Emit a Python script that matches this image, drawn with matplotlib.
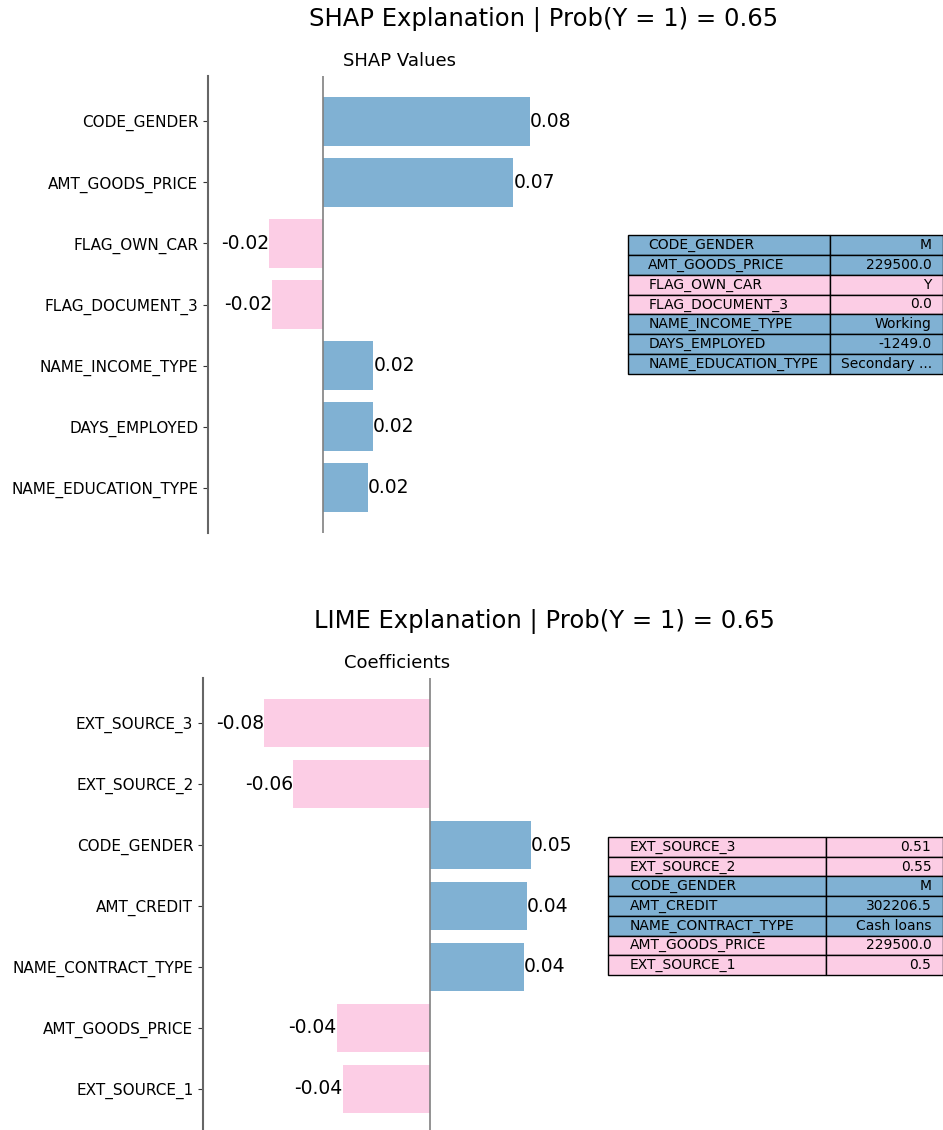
import matplotlib
matplotlib.use("Agg")
import matplotlib.pyplot as plt

BLUE = "#80b1d3"
PINK = "#fccde5"

shap_features = ["CODE_GENDER", "AMT_GOODS_PRICE", "FLAG_OWN_CAR", "FLAG_DOCUMENT_3",
                 "NAME_INCOME_TYPE", "DAYS_EMPLOYED", "NAME_EDUCATION_TYPE"]
shap_values = [0.0785, 0.0721, -0.0204, -0.0192, 0.0192, 0.0189, 0.0170]
shap_feature_values = ["M", "229500.0", "Y", "0.0", "Working", "-1249.0", "Secondary ..."]

lime_features = ["EXT_SOURCE_3", "EXT_SOURCE_2", "CODE_GENDER", "AMT_CREDIT",
                 "NAME_CONTRACT_TYPE", "AMT_GOODS_PRICE", "EXT_SOURCE_1"]
lime_values = [-0.0761, -0.0628, 0.0463, 0.0445, 0.0431, -0.0427, -0.0399]
lime_feature_values = ["0.51", "0.55", "M", "302206.5", "Cash loans", "229500.0", "0.5"]

prob = 0.65

W, H = 943, 1130
fig = plt.figure(figsize=(W / 100, H / 100), dpi=100)


def fx(px):
    return px / W


def fy(py):
    return 1 - py / H


def bar_panel(rect, feats, vals, subtitle, xlim):
    ax = fig.add_axes(rect)
    colors = [BLUE if v > 0 else PINK for v in vals]
    ys = list(range(len(feats)))
    ax.barh(ys, vals, color=colors, height=0.8)
    ax.set_yticks(ys)
    ax.set_yticklabels(feats, fontsize=11)
    ax.set_ylim(len(feats) - 0.26, -0.74)
    ax.set_xlim(*xlim)
    ax.axvline(0, color="gray", linewidth=1.2)
    for s in ["top", "right", "bottom"]:
        ax.spines[s].set_visible(False)
    ax.spines["left"].set_color("#666666")
    ax.spines["left"].set_linewidth(1.5)
    ax.set_xticks([])
    ax.tick_params(axis="y", colors="#333333", labelcolor="black")
    for y, v in zip(ys, vals):
        ax.text(v, y, f"{v:.2f}", ha="left" if v > 0 else "right", va="center",
                fontsize=13.5)
    ax.set_title(subtitle, fontsize=13, pad=7)
    return ax


def table_panel(rect, feats, fvals, vals, w0):
    ax = fig.add_axes(rect)
    ax.axis("off")
    cell_text = [[f, fv] for f, fv in zip(feats, fvals)]
    colors = [[BLUE if v > 0 else PINK] * 2 for v in vals]
    tab = ax.table(cellText=cell_text, cellColours=colors, bbox=[0, 0, 1, 1],
                   colWidths=[w0, 1 - w0])
    tab.auto_set_font_size(False)
    for (r, c), cell in tab.get_celld().items():
        cell.set_fontsize(10)
        cell.set_edgecolor("black")
        cell.set_linewidth(1.0)
        cell._loc = "left" if c == 0 else "right"
        cell.get_text().set_horizontalalignment("left" if c == 0 else "right")
    return ax


# SHAP panel
bar_panel([fx(208), fy(533), fx(591) - fx(208), fy(76) - fy(533)],
          shap_features, shap_values, "SHAP Values", (-0.0434, 0.1015))
fig.text(fx(544), fy(20), f"SHAP Explanation | Prob(Y = 1) = {prob:.2f}",
         ha="center", va="center", fontsize=17.5)
table_panel([fx(628), fy(374), fx(943) - fx(628), fy(235) - fy(374)],
            shap_features, shap_feature_values, shap_values, 0.641)

# LIME panel
bar_panel([fx(203), fy(1134), fx(591) - fx(203), fy(678) - fy(1134)],
          lime_features, lime_values, "Coefficients", (-0.104, 0.0739))
fig.text(fx(544), fy(622), f"LIME Explanation | Prob(Y = 1) = {prob:.2f}",
         ha="center", va="center", fontsize=17.5)
table_panel([fx(608), fy(975), fx(943) - fx(608), fy(837) - fy(975)],
            lime_features, lime_feature_values, lime_values, 0.65)

fig.savefig("out.png", dpi=100)
